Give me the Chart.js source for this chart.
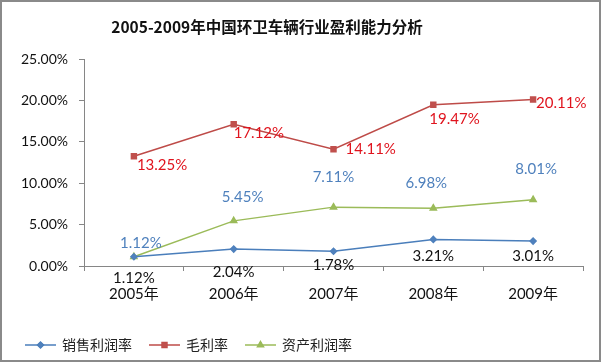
<!DOCTYPE html>
<html>
<head>
<meta charset="utf-8">
<script src="https://cdn.jsdelivr.net/npm/chart.js@4"></script>
<style>
  html, body { margin: 0; padding: 0; background: #fff; }
  #wrap { width: 602px; height: 363px; }
</style>
</head>
<body>
<div id="wrap"><canvas id="profitChart" width="602" height="363"></canvas></div>
<script>
const years = ["2005年", "2006年", "2007年", "2008年", "2009年"];
const salesMargin = [1.12, 2.04, 1.78, 3.21, 3.01];   // 销售利润率
const grossMargin = [13.25, 17.12, 14.11, 19.47, 20.11]; // 毛利率
const assetMargin = [1.12, 5.45, 7.11, 6.98, 8.01];   // 资产利润率
const yTicks = [0, 5, 10, 15, 20, 25];
const chartTitle = "2005-2009年中国环卫车辆行业盈利能力分析";

const latin = "Lato, 'Noto Sans CJK SC', sans-serif";
const cjk = "'Noto Sans CJK SC', sans-serif";

// label placement relative to each point (style only)
const labelStyles = [
  { color: "#111", align: "center", offs: [[0, 21], [0, 23], [0, 14], [0, 17], [0, 15]] },
  { color: "#E0141E", align: "left", offs: [[3, 9], [0, 9], [12, 0], [-4, 14], [3, 4]] },
  { color: "#4F81BD", align: "center", offs: [[7, -14], [9, -24], [0, -30], [-7, -25], [3, -31]] },
];

const extras = {
  id: "extras",
  beforeDraw(chart) {
    const ctx = chart.ctx;
    ctx.save();
    ctx.strokeStyle = "#8a8a8a";
    ctx.lineWidth = 2;
    ctx.strokeRect(1, 1, 599, 360);
    // title, sits a bit left of centre like the original
    ctx.fillStyle = "#111";
    ctx.font = "bold 15.5px " + cjk;
    ctx.textAlign = "center";
    ctx.textBaseline = "middle";
    ctx.fillText(chartTitle, 267, 27);
    ctx.restore();
  },
  afterDatasetsDraw(chart) {
    const ctx = chart.ctx;
    ctx.save();
    ctx.font = "15px " + latin;
    ctx.textBaseline = "middle";
    chart.data.datasets.forEach(function (ds, i) {
      const st = labelStyles[i];
      ctx.fillStyle = st.color;
      ctx.textAlign = st.align;
      chart.getDatasetMeta(i).data.forEach(function (pt, j) {
        ctx.fillText(ds.data[j].toFixed(2) + "%", pt.x + st.offs[j][0], pt.y + st.offs[j][1]);
      });
    });
    ctx.restore();
  },
  afterDraw(chart) {
    // legend: line with marker in the middle, then text
    const ctx = chart.ctx;
    ctx.save();
    ctx.font = "14px " + cjk;
    ctx.textBaseline = "middle";
    ctx.textAlign = "left";
    let x = 25;
    const y = 345;
    chart.data.datasets.forEach(function (ds) {
      ctx.strokeStyle = ds.borderColor;
      ctx.lineWidth = 1.5;
      ctx.beginPath();
      ctx.moveTo(x, y);
      ctx.lineTo(x + 31, y);
      ctx.stroke();
      Chart.helpers.drawPoint(ctx, {
        pointStyle: ds.pointStyle, radius: ds.pointRadius, rotation: 0, borderWidth: 1
      }, x + 15.5, y);
      ctx.fillStyle = ds.pointBackgroundColor;
      ctx.fill();
      ctx.fillStyle = "#222";
      ctx.fillText(ds.label, x + 37, y);
      x += 37 + ctx.measureText(ds.label).width + 17;
    });
    ctx.restore();
  },
};

new Chart(document.getElementById("profitChart"), {
  type: "line",
  data: {
    labels: years,
    datasets: [
      {
        label: "销售利润率",
        data: salesMargin,
        borderColor: "#4A7EBB",
        backgroundColor: "#4F81BD",
        pointBackgroundColor: "#4F81BD",
        pointBorderColor: "#4F81BD",
        pointStyle: "rectRot",
        pointRadius: 3,
        borderWidth: 1.5,
      },
      {
        label: "毛利率",
        data: grossMargin,
        borderColor: "#BE4B48",
        backgroundColor: "#C0504D",
        pointBackgroundColor: "#C0504D",
        pointBorderColor: "#C0504D",
        pointStyle: "rect",
        pointRadius: 3.5,
        borderWidth: 1.5,
      },
      {
        label: "资产利润率",
        data: assetMargin,
        borderColor: "#9BBB59",
        backgroundColor: "#9BBB59",
        pointBackgroundColor: "#9BBB59",
        pointBorderColor: "#9BBB59",
        pointStyle: "triangle",
        pointRadius: 3.5,
        borderWidth: 1.5,
      },
    ],
  },
  options: {
    responsive: false,
    animation: false,
    layout: { padding: { left: 0, right: 19, top: 59, bottom: 0 } },
    plugins: {
      legend: { display: false },
      tooltip: { enabled: false },
      title: { display: false },
    },
    scales: {
      x: {
        offset: true,
        grid: { display: true, offset: true, drawOnChartArea: false, drawTicks: true, tickLength: 5, color: "#868686" },
        border: { color: "#868686", width: 1 },
        ticks: { color: "#111", font: { family: latin, size: 15 }, padding: 14 },
        afterFit: function (scale) { scale.height = 363 - 266; },
      },
      y: {
        min: 0,
        max: 25,
        afterBuildTicks: function (scale) { scale.ticks = yTicks.map(function (v) { return { value: v }; }); },
        grid: { display: true, drawOnChartArea: false, drawTicks: true, tickLength: 5, color: "#868686" },
        border: { color: "#868686", width: 1 },
        ticks: {
          color: "#111",
          font: { family: latin, size: 14 },
          padding: 11,
          callback: function (v) { return v.toFixed(2) + "%"; },
        },
        afterFit: function (scale) { scale.width = 84; },
      },
    },
  },
  plugins: [extras],
});
</script>
</body>
</html>
